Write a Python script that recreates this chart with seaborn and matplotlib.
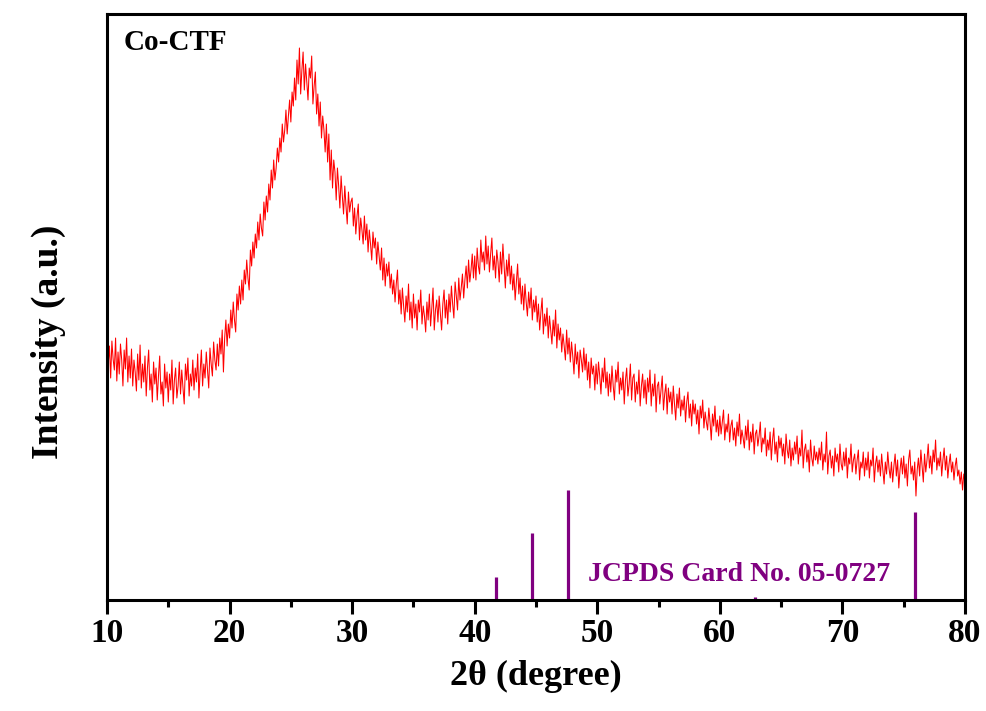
import numpy as np
import pandas as pd
import matplotlib
matplotlib.use("Agg")
import matplotlib.pyplot as plt
import seaborn as sns

# XRD pattern of Co-CTF, sampled every 0.1 deg from 10 to 80 (arb. units)
two_theta = np.round(np.arange(10, 80.001, 0.1), 1)
intensity = [
    268, 236, 254, 222, 259, 241, 230, 262, 219, 248,  # 10
    226, 256, 240, 214, 250, 231, 262, 218, 244, 222,  # 11
    251, 214, 240, 228, 209, 246, 220, 255, 212, 236,  # 12
    218, 244, 204, 232, 250, 210, 226, 198, 238, 216,  # 13
    232, 200, 224, 244, 206, 218, 194, 236, 212, 228,  # 14
    198, 226, 210, 240, 196, 220, 232, 202, 214, 238,  # 15
    206, 230, 212, 196, 236, 220, 242, 204, 226, 214,  # 16
    240, 210, 232, 218, 246, 202, 228, 250, 214, 236,  # 17
    222, 248, 230, 212, 252, 236, 224, 258, 240, 230,  # 18
    256, 234, 262, 246, 270, 228, 262, 280, 254, 276,  # 19
    262, 290, 272, 298, 280, 268, 306, 290, 314, 296,  # 20
    320, 300, 330, 316, 340, 322, 310, 350, 334, 358,  # 21
    342, 366, 352, 378, 360, 386, 372, 364, 398, 380,  # 22
    404, 388, 416, 400, 430, 412, 440, 420, 432, 452,  # 23
    438, 462, 448, 476, 458, 470, 490, 466, 484, 500,  # 24
    478, 508, 494, 522, 500, 540, 516, 552, 506, 530,  # 25
    548, 510, 536, 518, 500, 532, 522, 544, 496, 514,  # 26
    528, 486, 506, 474, 498, 462, 484, 470, 448, 476,  # 27
    438, 466, 420, 450, 412, 440, 428, 400, 432, 414,  # 28
    392, 424, 404, 386, 414, 394, 376, 408, 388, 398,  # 29
    402, 374, 392, 366, 384, 396, 360, 382, 370, 356,  # 30
    384, 360, 376, 348, 370, 356, 340, 368, 352, 362,  # 31
    336, 358, 344, 330, 352, 320, 342, 314, 336, 324,  # 32
    338, 312, 326, 306, 320, 298, 316, 330, 296, 310,  # 33
    286, 312, 294, 278, 304, 288, 316, 280, 298, 272,  # 34
    306, 282, 296, 270, 300, 288, 310, 276, 294, 284,  # 35
    268, 298, 280, 306, 274, 292, 312, 270, 290, 300,  # 36
    278, 304, 286, 270, 296, 310, 282, 300, 276, 306,  # 37
    288, 314, 296, 282, 318, 304, 290, 322, 300, 312,  # 38
    326, 302, 320, 334, 312, 340, 318, 330, 346, 322,  # 39
    344, 320, 352, 334, 326, 360, 338, 348, 330, 364,  # 40
    336, 354, 328, 346, 362, 330, 344, 322, 350, 338,  # 41
    318, 348, 326, 356, 334, 312, 340, 324, 346, 316,  # 42
    334, 310, 326, 300, 318, 336, 306, 322, 296, 314,  # 43
    290, 316, 298, 284, 308, 292, 312, 280, 300, 288,  # 44
    304, 278, 296, 270, 288, 302, 266, 286, 274, 292,  # 45
    262, 284, 270, 256, 280, 264, 290, 252, 276, 260,  # 46
    272, 248, 266, 254, 240, 270, 246, 262, 238, 258,  # 47
    244, 226, 256, 236, 248, 222, 250, 240, 228, 252,  # 48
    230, 246, 220, 238, 212, 242, 226, 234, 210, 236,  # 49
    216, 238, 224, 206, 232, 218, 242, 212, 228, 204,  # 50
    226, 208, 234, 214, 200, 230, 218, 238, 206, 222,  # 51
    210, 228, 196, 220, 232, 204, 216, 236, 200, 222,  # 52
    226, 198, 218, 206, 230, 194, 214, 226, 202, 220,  # 53
    196, 222, 208, 230, 194, 216, 204, 226, 188, 214,  # 54
    218, 196, 210, 224, 190, 206, 216, 186, 212, 198,  # 55
    208, 186, 214, 196, 180, 206, 192, 212, 184, 200,  # 56
    190, 204, 178, 198, 208, 182, 196, 174, 200, 186,  # 57
    196, 176, 190, 166, 194, 182, 200, 172, 188, 178,  # 58
    170, 192, 178, 160, 186, 174, 194, 168, 180, 164,  # 59
    184, 166, 178, 190, 160, 176, 168, 186, 158, 174,  # 60
    180, 160, 172, 154, 178, 164, 186, 156, 170, 162,  # 61
    152, 174, 160, 180, 150, 168, 158, 176, 146, 166,  # 62
    170, 154, 164, 178, 148, 162, 156, 172, 144, 160,  # 63
    150, 168, 140, 160, 172, 146, 158, 138, 164, 152,  # 64
    162, 144, 156, 136, 166, 150, 142, 160, 134, 152,  # 65
    140, 158, 146, 164, 136, 152, 144, 170, 132, 150,  # 66
    156, 138, 150, 128, 160, 142, 134, 154, 140, 148,  # 67
    136, 152, 140, 158, 130, 146, 138, 168, 126, 144,  # 68
    150, 132, 144, 124, 152, 138, 146, 128, 156, 136,  # 69
    130, 148, 134, 152, 122, 142, 136, 156, 128, 140,  # 70
    146, 126, 140, 150, 120, 138, 132, 148, 124, 142,  # 71
    130, 148, 122, 140, 134, 152, 118, 136, 144, 128,  # 72
    140, 124, 146, 130, 116, 138, 126, 148, 132, 122,  # 73
    138, 118, 134, 146, 124, 140, 112, 130, 142, 126,  # 74
    144, 122, 136, 114, 140, 150, 126, 134, 120, 138,  # 75
    104, 130, 142, 124, 150, 134, 118, 146, 128, 140,  # 76
    156, 132, 144, 126, 150, 138, 160, 130, 142, 134,  # 77
    148, 124, 140, 152, 130, 144, 122, 136, 146, 128,  # 78
    138, 120, 134, 142, 124, 130, 116, 128, 110, 126,  # 79
    118,  # 80
]

# JCPDS 05-0727 reference lines
ref_pos = [41.7, 44.7, 47.6, 62.9, 75.9]
ref_height = [23, 67, 110, 3, 88]

df = pd.DataFrame({"two_theta": two_theta, "intensity": intensity})

sns.set_style("ticks")
plt.rcParams["font.family"] = ["Liberation Serif", "DejaVu Serif"]
plt.rcParams["font.weight"] = "bold"
plt.rcParams["text.color"] = "black"
plt.rcParams["axes.labelcolor"] = "black"
plt.rcParams["xtick.color"] = "black"

fig = plt.figure(figsize=(9.87, 7.11), dpi=100)
ax = fig.add_axes([0.1084, 0.1561, 0.8693, 0.8242])

sns.lineplot(data=df, x="two_theta", y="intensity", ax=ax, color="#ff0000", linewidth=0.75)
ax.vlines(ref_pos, 0, ref_height, color="#800080", linewidth=2.3)

ax.set_xlim(10, 80)
ax.set_ylim(0, 586)
ax.set_xticks(range(10, 81, 10))
ax.set_xticks(range(15, 80, 10), minor=True)
ax.set_yticks([])
ax.tick_params(axis="x", which="major", direction="out", length=10, width=2.2,
               labelsize=24, pad=3, top=False)
ax.tick_params(axis="x", which="minor", direction="out", length=5, width=2.2, top=False)
for lab in ax.get_xticklabels():
    lab.set_fontweight("bold")
for sp in ax.spines.values():
    sp.set_linewidth(2.2)
    sp.set_color("black")

ax.set_xlabel("2θ (degree)", fontsize=26, fontweight="bold", labelpad=8)
ax.set_ylabel("Intensity (a.u.)", fontsize=27, fontweight="bold")
ax.yaxis.set_label_coords(-0.048, 0.44)

ax.text(0.019, 0.975, "Co-CTF", transform=ax.transAxes, fontsize=21,
        fontweight="bold", va="top", ha="left")
ax.text(49.25, 19, "JCPDS Card No. 05-0727", fontsize=20, fontweight="bold",
        color="#800080", va="baseline", ha="left")

fig.savefig("out.png", dpi=100)
